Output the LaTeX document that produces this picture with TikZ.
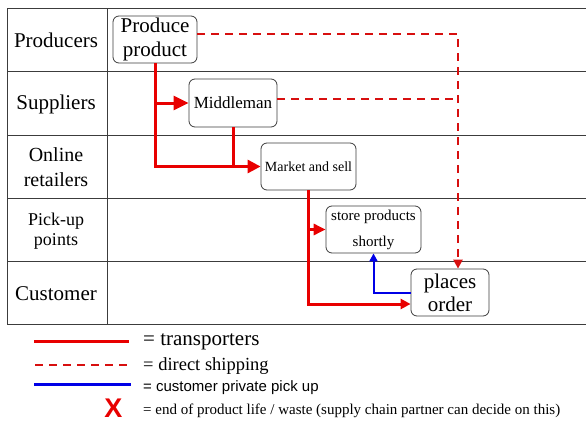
\documentclass[tikz,border=0pt]{standalone}
\usepackage{fontspec}
\setmainfont{Liberation Serif}
\newfontfamily\lsans{Liberation Sans}
\usetikzlibrary{arrows.meta}
\definecolor{trred}{RGB}{232,0,0}
\definecolor{dsred}{RGB}{215,15,15}
\definecolor{pkblue}{RGB}{0,0,230}
\definecolor{grid}{RGB}{60,60,60}
\begin{document}
\begin{tikzpicture}[x=1pt,y=-1pt,
  box/.style={draw=grid, line width=0.8pt, rounded corners=6pt, inner sep=0pt, align=center, fill=white},
  lane/.style={align=center, inner sep=0pt},
  gridline/.style={draw=grid, line width=0.9pt},
  trline/.style={draw=trred, line width=3pt},
  dsline/.style={draw=dsred, line width=2.8pt, dash pattern=on 8pt off 6pt},
  pkline/.style={draw=pkblue, line width=2pt},
  legtxt/.style={anchor=west, inner sep=0pt}
]
\useasboundingbox (0,0) rectangle (586,423);
% table
\draw[gridline] (7,8) -- (586,8);
\draw[gridline] (7,71) -- (586,71);
\draw[gridline] (7,135) -- (586,135);
\draw[gridline] (7,198) -- (586,198);
\draw[gridline] (7,261) -- (586,261);
\draw[gridline] (7,324) -- (586,324);
\draw[gridline] (7,8) -- (7,324);
\draw[gridline] (107,8) -- (107,324);
% lane labels
\node[lane, font=\fontsize{21}{25}\selectfont] (l1) at (56,40) {Producers};
\node[lane, font=\fontsize{21}{25}\selectfont] (l2) at (56,104) {Suppliers};
\node[lane, font=\fontsize{20}{25}\selectfont] (l3) at (56,167) {Online\\retailers};
\node[lane, font=\fontsize{18}{20}\selectfont] (l4) at (56,231) {Pick-up\\points};
\node[lane, font=\fontsize{21}{25}\selectfont] (l5) at (56,294) {Customer};
% process boxes
\node[box, minimum width=84pt, minimum height=47pt, font=\fontsize{21}{24}\selectfont] (pp) at (155,39.5) {Produce\\product};
\node[box, minimum width=88pt, minimum height=48pt, font=\fontsize{17}{20}\selectfont] (mm) at (233,103) {Middleman};
\node[box, minimum width=95pt, minimum height=47pt, font=\fontsize{14}{17}\selectfont] (mk) at (308.5,166.5) {Market and sell};
\node[box, minimum width=95pt, minimum height=47pt, font=\fontsize{15}{26}\selectfont] (st) at (373.5,229.5) {store products\\shortly};
\node[box, minimum width=78pt, minimum height=47pt, font=\fontsize{21}{23}\selectfont] (po) at (450,292.5) {places\\order};
% transporters
\coordinate (pin) at ([yshift=-11.5pt]po.west);
\draw[trline, -{Triangle[length=15pt,width=14pt]}] (pp.south |- mm.west) -- (mm.west);
\draw[trline, -{Triangle[length=13pt,width=13pt]}] (pp.south) -- (pp.south |- mk.west) -- (mk.west);
\draw[trline] (mm.south) -- (mm.south |- mk.west);
\draw[trline, -{Triangle[length=12pt,width=11pt]}] (mk.south |- st.west) -- (st.west);
\draw[trline, -{Triangle[length=10pt,width=10pt]}] (mk.south) |- (pin);
% direct shipping
\coordinate (d1) at (458,34);
\coordinate (pe) at ([yshift=5.5pt]pp.east);
\coordinate (me) at ([yshift=4pt]mm.east);
\draw[dsline, -{Triangle[length=9pt,width=9pt]}] (pe) -- (d1) -- (d1 |- po.north);
\draw[dsline] (me) -- (me -| d1);
% private pick up
\draw[pkline, -{Triangle[length=8pt,width=8pt]}] (po.west) -| (st.south);
% legend
\coordinate (a1) at (34,341); \coordinate (a2) at (129,341);
\coordinate (b1) at (35,365); \coordinate (b2) at (128,365);
\coordinate (c1) at (34,384); \coordinate (c2) at (131,384);
\draw[trline] (a1) -- (a2);
\draw[dsline] (b1) -- (b2);
\draw[draw=pkblue, line width=3pt] (c1) -- (c2);
\node[legtxt, font=\fontsize{21}{24}\selectfont] (t1) at (143,342) {= transporters};
\node[legtxt, font=\fontsize{18.5}{22}\selectfont] (t2) at (143,366) {= direct shipping};
\node[legtxt, font=\lsans\fontsize{15}{18}\selectfont] (t3) at (143,388) {= customer private pick up};
\node[inner sep=0pt, text=trred, font=\lsans\bfseries\fontsize{27}{27}\selectfont] (xx) at (113.5,408.5) {X};
\node[legtxt, font=\fontsize{15}{18}\selectfont] (t4) at (143,411) {= end of product life / waste (supply chain partner can decide on this)};
\end{tikzpicture}
\end{document}
